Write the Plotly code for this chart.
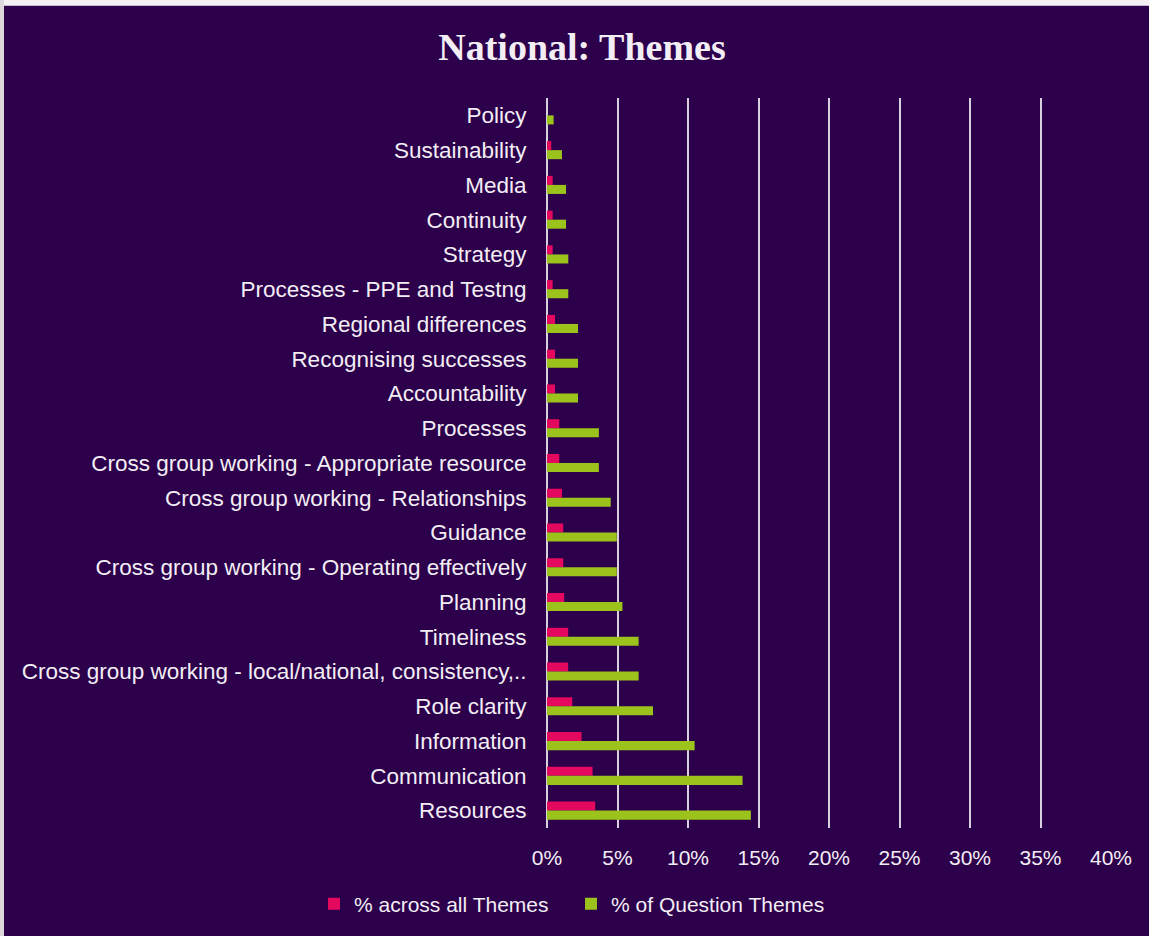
import plotly.graph_objects as go

# Theme categories, listed top to bottom as they appear on the chart
themes = [
    "Policy",
    "Sustainability",
    "Media",
    "Continuity",
    "Strategy",
    "Processes - PPE and Testng",
    "Regional differences",
    "Recognising successes",
    "Accountability",
    "Processes",
    "Cross group working - Appropriate resource",
    "Cross group working - Relationships",
    "Guidance",
    "Cross group working - Operating effectively",
    "Planning",
    "Timeliness",
    "Cross group working - local/national, consistency,..",
    "Role clarity",
    "Information",
    "Communication",
    "Resources",
]

# Share of each theme across all themes (fraction)
pct_all_themes = [
    0.000, 0.003, 0.004, 0.004, 0.004, 0.004, 0.0057, 0.0057, 0.0057,
    0.0087, 0.0087, 0.0106, 0.0115, 0.0115, 0.0122, 0.015, 0.015,
    0.0179, 0.0245, 0.0323, 0.0342,
]

# Share of each theme within question themes (fraction)
pct_question_themes = [
    0.0047, 0.0106, 0.0135, 0.0135, 0.0151, 0.0151, 0.022, 0.022, 0.022,
    0.0368, 0.0368, 0.0452, 0.0495, 0.0495, 0.0535, 0.065, 0.065,
    0.0752, 0.1047, 0.1387, 0.1446,
]

x_ticks = [0, 0.05, 0.10, 0.15, 0.20, 0.25, 0.30, 0.35, 0.40]
x_tick_labels = ["0%", "5%", "10%", "15%", "20%", "25%", "30%", "35%", "40%"]

BG = "#2D004B"
TEXT = "#F2EEF4"
GRID = "#D8D0DE"
PINK = "#E4085E"
GREEN = "#9CC31B"

fig = go.Figure()
fig.add_trace(go.Bar(
    y=themes, x=pct_all_themes, orientation="h",
    name="% across all Themes\u00a0\u00a0\u00a0", marker=dict(color=PINK, line=dict(width=0)),
))
fig.add_trace(go.Bar(
    y=themes, x=pct_question_themes, orientation="h",
    name="% of Question Themes", marker=dict(color=GREEN, line=dict(width=0)),
))

W, H = 1149, 936
ml, mr, mt, mb = 547, 38, 98, 108
pw, ph = W - ml - mr, H - mt - mb


def px_x(p):
    return (p - ml) / pw


def px_y(p):
    return (H - mb - p) / ph


# light frame strip along the top and left edges of the page
fig.add_shape(type="rect", xref="paper", yref="paper", layer="above",
              x0=px_x(0), x1=px_x(W), y0=px_y(5), y1=px_y(0),
              fillcolor="#F4F0F4", line=dict(width=0))
fig.add_shape(type="rect", xref="paper", yref="paper", layer="above",
              x0=px_x(0), x1=px_x(W), y0=px_y(6), y1=px_y(5),
              fillcolor="#C8B8D0", line=dict(width=0))
fig.add_shape(type="rect", xref="paper", yref="paper", layer="above",
              x0=px_x(0), x1=px_x(4), y0=px_y(H), y1=px_y(0),
              fillcolor="#DCD8DC", line=dict(width=0))

fig.update_layout(
    width=W, height=H,
    paper_bgcolor=BG, plot_bgcolor=BG,
    margin=dict(l=ml, r=mr, t=mt, b=mb),
    barmode="group", bargap=0.48, bargroupgap=0,
    font=dict(family="Liberation Sans, Arial, sans-serif", color=TEXT, size=21),
    title=dict(
        text="<b>National: Themes</b>",
        font=dict(family="Liberation Serif, serif", size=38, color=TEXT),
        x=582 / W, xanchor="center",
        y=1 - 47 / H, yanchor="middle",
    ),
    showlegend=True,
    legend=dict(
        orientation="h", x=px_x(572), xanchor="center",
        y=px_y(904), yanchor="middle",
        font=dict(size=21, color=TEXT), bgcolor="rgba(0,0,0,0)",
        itemwidth=30, traceorder="normal",
    ),
    xaxis=dict(
        range=[0, 0.40], tickvals=x_ticks, ticktext=x_tick_labels,
        showgrid=True, gridcolor=GRID, gridwidth=2,
        zeroline=True, zerolinecolor=GRID, zerolinewidth=2,
        showline=False, ticks="outside", ticklen=11, tickcolor=BG,
        tickfont=dict(size=21, color=TEXT), fixedrange=True,
    ),
    yaxis=dict(
        categoryorder="array", categoryarray=themes, autorange="reversed",
        showgrid=False, zeroline=False, showline=False,
        ticks="outside", ticklen=15, tickcolor=BG,
        tickfont=dict(size=22.5, color=TEXT), fixedrange=True,
    ),
)

fig.write_html("out.html")
